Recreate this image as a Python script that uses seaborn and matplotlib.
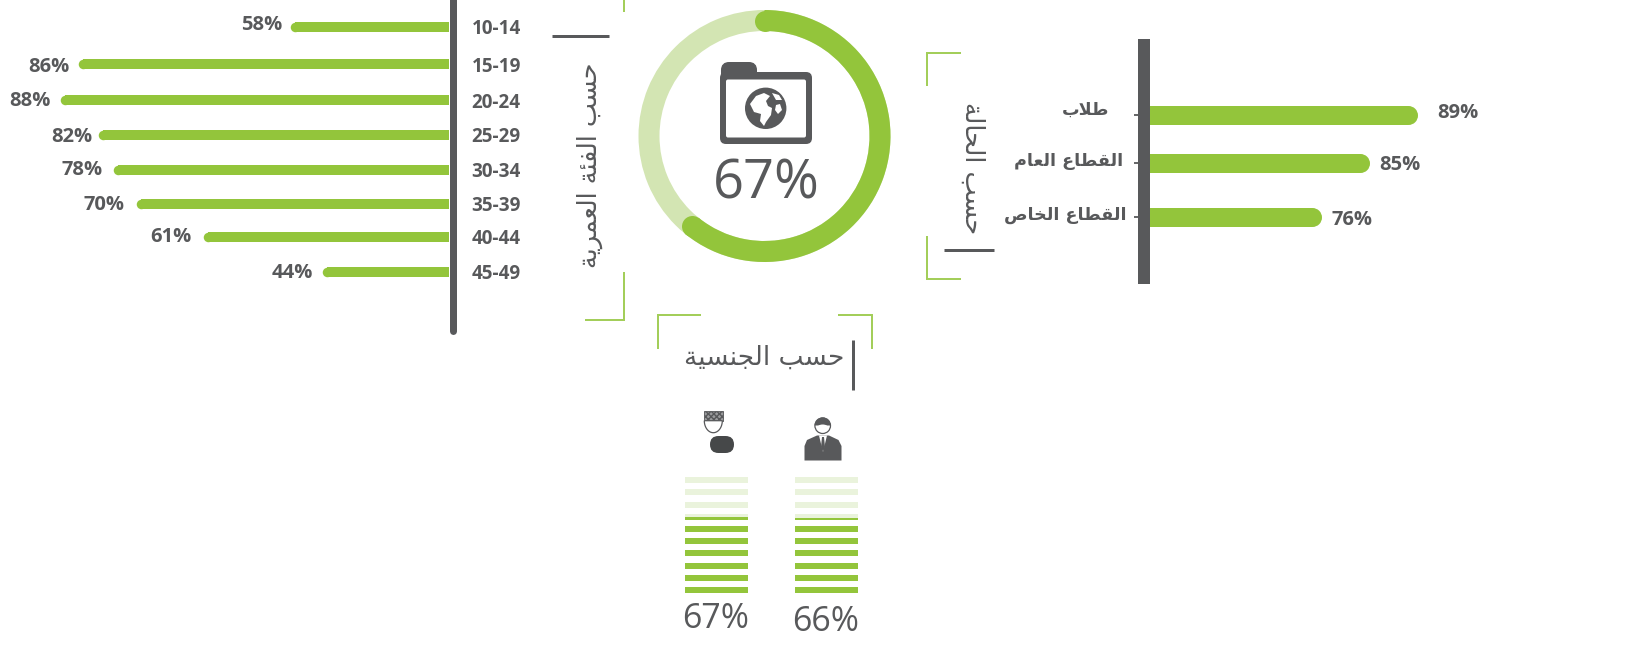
import numpy as np
import matplotlib
matplotlib.use("Agg")
import matplotlib.pyplot as plt
from matplotlib.patches import Rectangle, FancyBboxPatch, Circle, Polygon, Wedge, Ellipse
import seaborn as sns

# ---------- data ----------
age_groups = ["10-14", "15-19", "20-24", "25-29", "30-34", "35-39", "40-44", "45-49"]
age_shares = [58, 86, 88, 82, 78, 70, 61, 44]
age_bar_extent = [36, 84, 88, 79.5, 76, 70.7, 55.6, 28.6]   # drawn lengths differ from the printed shares

status_groups = ["طلاب", "القطاع العام", "القطاع الخاص"]
status_shares = [89, 85, 76]
status_bar_extent = [89, 73, 57.3]

gender_groups = ["female", "male"]
gender_shares = [67, 66]

overall_share = 67
ring_drawn = [60.8, 39.2]

title_age = "حسب الفئة العمرية"
title_status = "حسب الحالة"
title_gender = "حسب الجنسية"

# ---------- style ----------
GREEN = "#93C53B"
LIGHT = "#D3E5B3"
PALE = "#EAF3DC"
GREY = "#58595B"
BRACKET = "#A3CE5A"
W, H = 1639, 659
DPI = 100

sns.set_theme(style="white")
plt.rcParams["font.family"] = ["Open Sans", "DejaVu Sans"]

# ---------- Arabic shaping (matplotlib draws glyphs left to right, unshaped) ----------
FORMS = {
    "ح": (0xFEA1, 0xFEA2, 0xFEA3, 0xFEA4), "س": (0xFEB1, 0xFEB2, 0xFEB3, 0xFEB4),
    "ب": (0xFE8F, 0xFE90, 0xFE91, 0xFE92), "ا": (0xFE8D, 0xFE8E, None, None),
    "ل": (0xFEDD, 0xFEDE, 0xFEDF, 0xFEE0), "ف": (0xFED1, 0xFED2, 0xFED3, 0xFED4),
    "ئ": (0xFE89, 0xFE8A, 0xFE8B, 0xFE8C), "ة": (0xFE93, 0xFE94, None, None),
    "ع": (0xFEC9, 0xFECA, 0xFECB, 0xFECC), "م": (0xFEE1, 0xFEE2, 0xFEE3, 0xFEE4),
    "ر": (0xFEAD, 0xFEAE, None, None), "ي": (0xFEF1, 0xFEF2, 0xFEF3, 0xFEF4),
    "ج": (0xFE9D, 0xFE9E, 0xFE9F, 0xFEA0), "ن": (0xFEE5, 0xFEE6, 0xFEE7, 0xFEE8),
    "ط": (0xFEC1, 0xFEC2, 0xFEC3, 0xFEC4), "ق": (0xFED5, 0xFED6, 0xFED7, 0xFED8),
    "خ": (0xFEA5, 0xFEA6, 0xFEA7, 0xFEA8), "ص": (0xFEB9, 0xFEBA, 0xFEBB, 0xFEBC),
}
LAM_ALEF = (0xFEFB, 0xFEFC)


def shape(text):
    out = []
    i = 0
    prev_joins = False
    while i < len(text):
        c = text[i]
        if c not in FORMS:
            out.append(c)
            prev_joins = False
            i += 1
            continue
        if c == "ل" and i + 1 < len(text) and text[i + 1] == "ا":
            out.append(chr(LAM_ALEF[1 if prev_joins else 0]))
            prev_joins = False
            i += 2
            continue
        f = FORMS[c]
        next_ok = i + 1 < len(text) and text[i + 1] in FORMS and f[2] is not None
        if prev_joins and next_ok:
            g = f[3]
        elif prev_joins:
            g = f[1]
        elif next_ok:
            g = f[2]
        else:
            g = f[0]
        out.append(chr(g))
        prev_joins = next_ok
        i += 1
    return "".join(out)[::-1]


AR = ["DejaVu Sans"]

fig = plt.figure(figsize=(W / DPI, H / DPI), dpi=DPI, facecolor="white")


def ax_px(x0, y0, x1, y1, **kw):
    return fig.add_axes([x0 / W, 1 - y1 / H, (x1 - x0) / W, (y1 - y0) / H], **kw)


def strip(ax):
    for s in ax.spines.values():
        s.set_visible(False)
    ax.patch.set_visible(False)
    ax.set_xlabel("")
    ax.set_ylabel("")
    ax.xaxis.set_visible(False)


def round_tips(ax, radius_px, px_per_unit):
    r = radius_px / px_per_unit
    for p in list(ax.patches):
        w = p.get_width()
        p.set_width(w - r)
        ax.plot([w - r], [p.get_y() + p.get_height() / 2], "o", color=GREEN,
                ms=2 * radius_px * 72 / DPI, mew=0, clip_on=False)


# ---------- age panel ----------
age_px = 4.418
age_step = 34.97
ax = ax_px(0, 27 - 17.5, 449, 27 - 17.5 + 8 * age_step)
sns.barplot(x=age_bar_extent, y=age_groups, orient="h", color=GREEN, saturation=1,
            width=9.5 / age_step, linewidth=0, ax=ax)
age_nudge = [d / age_step for d in (0, 2.1, 3.1, 3.1, 3.1, 2.1, 0, 0)]
for p, dy in zip(ax.patches, age_nudge):
    p.set_y(p.get_y() + dy)
round_tips(ax, 4.75, age_px)
ax.set_xlim(449 / age_px, 0)
ax.set_ylim(7.5, -0.5)
strip(ax)
ax.yaxis.tick_right()
ax.set_yticks([i + d for i, d in enumerate(age_nudge)])
ax.set_yticklabels(age_groups)
ax.tick_params(axis="y", length=0, pad=16.2, labelsize=13.6, labelcolor=GREY)
for t in ax.get_yticklabels():
    t.set_fontweight("bold")
age_gaps = [8, 8, 10, 5, 11, 12, 12, 10]
age_lift = [2.2, -3, -1, -2, 0, -1, 0, -1]
for i, (v, s, g, l) in enumerate(zip(age_bar_extent, age_shares, age_gaps, age_lift)):
    ax.annotate(f"{s}%", xy=(v, i + age_nudge[i]), xytext=(-g, l), textcoords="offset pixels",
                ha="right", va="center", fontsize=14.5, fontweight="bold", color=GREY)

# ---------- status panel ----------
status_px = 3.0
ax = ax_px(1150, 115 - 25.6, 1500, 115 + 128.1)
sns.barplot(x=status_bar_extent, y=[shape(s) for s in status_groups], orient="h",
            color=GREEN, saturation=1, width=19 / 51.25, linewidth=0, ax=ax)
status_dy = [0, -3 / 51.25, 0]
for p, dy in zip(ax.patches, status_dy):
    p.set_y(p.get_y() + dy)
round_tips(ax, 9.5, status_px)
ax.set_xlim(0, 350 / status_px)
ax.set_ylim(2.5, -0.5)
strip(ax)
ax.set_yticks([0, 1 + status_dy[1], 2])
ax.set_yticklabels(["", "", ""])
ax.tick_params(axis="y", left=True, length=16 * 72 / DPI, width=1.3, color=GREY)
status_gaps = [41, 27, 24]
status_lift = [5, 2, 2]
label_gaps = [20, 10, 10]
value_lift = [2, -2, -3]
for i, (v, s, name) in enumerate(zip(status_bar_extent, status_shares, status_groups)):
    yy = i + status_dy[i]
    ax.annotate(shape(name), xy=(0, yy), xytext=(-status_gaps[i], status_lift[i]),
                textcoords="offset pixels", ha="right", va="center", fontsize=12.6,
                fontweight="bold", color=GREY, family=AR)
    ax.annotate(f"{s}%", xy=(v, yy), xytext=(label_gaps[i], value_lift[i]),
                textcoords="offset pixels", ha="left", va="center",
                fontsize=14.5, fontweight="bold", color=GREY)

# ---------- ring ----------
R = 126
cx, cy = 764.5, 136
ax = ax_px(cx - R, cy - R, cx + R, cy + R)
ax.pie([100], colors=[LIGHT], radius=1, startangle=90,
       wedgeprops=dict(width=21 / R, linewidth=0))
ax.pie(ring_drawn, colors=[GREEN, "none"], radius=1, startangle=90, counterclock=False,
       wedgeprops=dict(width=21 / R, linewidth=0))
end_ang = np.deg2rad(90 - 360 * ring_drawn[0] / sum(ring_drawn))
rc = 1 - 10.5 / R
ax.plot([0, rc * np.cos(end_ang)], [rc, rc * np.sin(end_ang)], "o", color=GREEN,
        ms=21 * 72 / DPI, mew=0, clip_on=False, ls="none")
ax.set_xlim(-1, 1)
ax.set_ylim(-1, 1)
ax.axis("off")

# ---------- gender columns ----------
ax = ax_px(661, 477, 881, 593)
top = 102.3
sns.barplot(x=gender_groups, y=[top, top], color=PALE, saturation=1, width=63 / 110, linewidth=0, ax=ax)
sns.barplot(x=gender_groups, y=gender_shares, color=GREEN, saturation=1, width=63 / 110, linewidth=0, ax=ax)
ax.set_xlim(-0.5, 1.5)
ax.set_ylim(0, top)
strip(ax)
ax.yaxis.set_visible(False)
period = 10.76
for k in range(10):
    ax.axhspan(5.3 + k * period, (k + 1) * period, color="white", lw=0, zorder=5)

# ---------- overlay (pixel coordinates): rules, brackets, icons, headings ----------
ov = fig.add_axes([0, 0, 1, 1], zorder=10)
ov.set_xlim(0, W)
ov.set_ylim(H, 0)
ov.axis("off")
ov.patch.set_visible(False)


def line(xs, ys, color=BRACKET, lw=2.0, cap="butt"):
    ov.plot(xs, ys, color=color, lw=lw * 72 / DPI, solid_capstyle=cap, solid_joinstyle="miter")


# axes rules
line([452.5, 452.5], [-5, 331], GREY, 7, "round")
ov.add_patch(Rectangle((1137.5, 38.7), 12.5, 245.5, color=GREY, lw=0))

# brackets
line([623.5, 623.5], [0, 12])
line([585, 623.5, 623.5], [320, 320, 272])
line([961, 927, 927], [53, 53, 86])
line([927, 927, 961], [236, 279, 279])
line([658, 658, 701], [349, 315, 315])
line([838, 872, 872], [315, 315, 349])

# heading rules
line([552, 609], [36, 36], GREY, 3)
line([944, 994], [250, 250], GREY, 3)
line([853.3, 853.3], [340, 390], GREY, 3)

# headings
ov.text(590, 165, shape(title_age), rotation=90, ha="center", va="center",
        fontsize=18.4, color=GREY, family=AR)
ov.text(972, 168, shape(title_status), rotation=-90, ha="center", va="center",
        fontsize=18.4, color=GREY, family=AR)
ov.text(764, 358, shape(title_gender), ha="center", va="center",
        fontsize=19, color=GREY, family=AR)

# big numbers
ov.text(766, 184, f"{overall_share}%", ha="center", va="center", fontsize=39, color=GREY)
ov.text(715.7, 619.5, f"{gender_shares[0]}%", ha="center", va="center", fontsize=24.5, color=GREY)
ov.text(826, 622, f"{gender_shares[1]}%", ha="center", va="center", fontsize=24.5, color=GREY)

# folder icon with globe
ov.add_patch(FancyBboxPatch((724, 65), 30, 18, boxstyle="round,pad=0,rounding_size=5", fc=GREY, ec=GREY, lw=6 * .72))
ov.add_patch(FancyBboxPatch((720, 72), 92, 72, boxstyle="round,pad=0,rounding_size=6", fc=GREY, ec="none"))
ov.add_patch(FancyBboxPatch((726, 79.5), 80, 58, boxstyle="round,pad=0,rounding_size=2", fc="white", ec="none"))
ov.add_patch(Circle((765.7, 108.3), 20.7, fc=GREY, ec="none"))
land = [
    [(750, 104), (756, 96), (764, 93), (770, 96), (766, 101), (768, 106), (772, 108), (771, 115), (766, 122), (764, 126), (760, 121), (761, 114), (754, 112)],
    [(772, 93), (779, 95), (782, 100), (776, 100)],
    [(776, 105), (780, 104), (782, 110), (778, 114), (775, 110)],
]
for pts in land:
    ov.add_patch(Polygon(pts, closed=True, fc="white", ec="none"))

# headscarf-style figure
ov.add_patch(Rectangle((704, 411), 18.7, 9.7, fc="#9A9B9D", ec=GREY, lw=.6, hatch="xxxxxx"))
t = np.linspace(0, np.pi, 40)
ov.add_patch(Polygon(np.c_[713.3 + 9 * np.cos(t), 420.7 + 12 * np.sin(t)], closed=True,
                     fc="white", ec=GREY, lw=0.9))
ov.add_patch(FancyBboxPatch((710, 436), 24, 17, boxstyle="round,pad=0,rounding_size=8.5", fc="#464849", ec="none"))

# suited figure
body = [(804.5, 460.5), (804.5, 446), (807, 440), (817, 435.5), (829, 435.5), (838.5, 440), (841.5, 446), (841.5, 460.5)]
ov.add_patch(Polygon(body, closed=True, fc=GREY, ec="none"))
ov.add_patch(Polygon([(819, 435.5), (827, 435.5), (823, 452)], closed=True, fc="white", ec="none"))
ov.add_patch(Polygon([(822, 437), (824, 437), (825, 447), (823, 452), (821, 447)], closed=True, fc=GREY, ec="none"))
ov.add_patch(Circle((822.7, 425.7), 7.8, fc="white", ec=GREY, lw=0.9))
ov.add_patch(Wedge((822.7, 425.5), 8, 180, 360, fc=GREY, ec="none"))
ov.add_patch(Ellipse((822.7, 427), 10, 5, fc="white", ec="none"))

fig.savefig("out.png", dpi=DPI, facecolor="white")
